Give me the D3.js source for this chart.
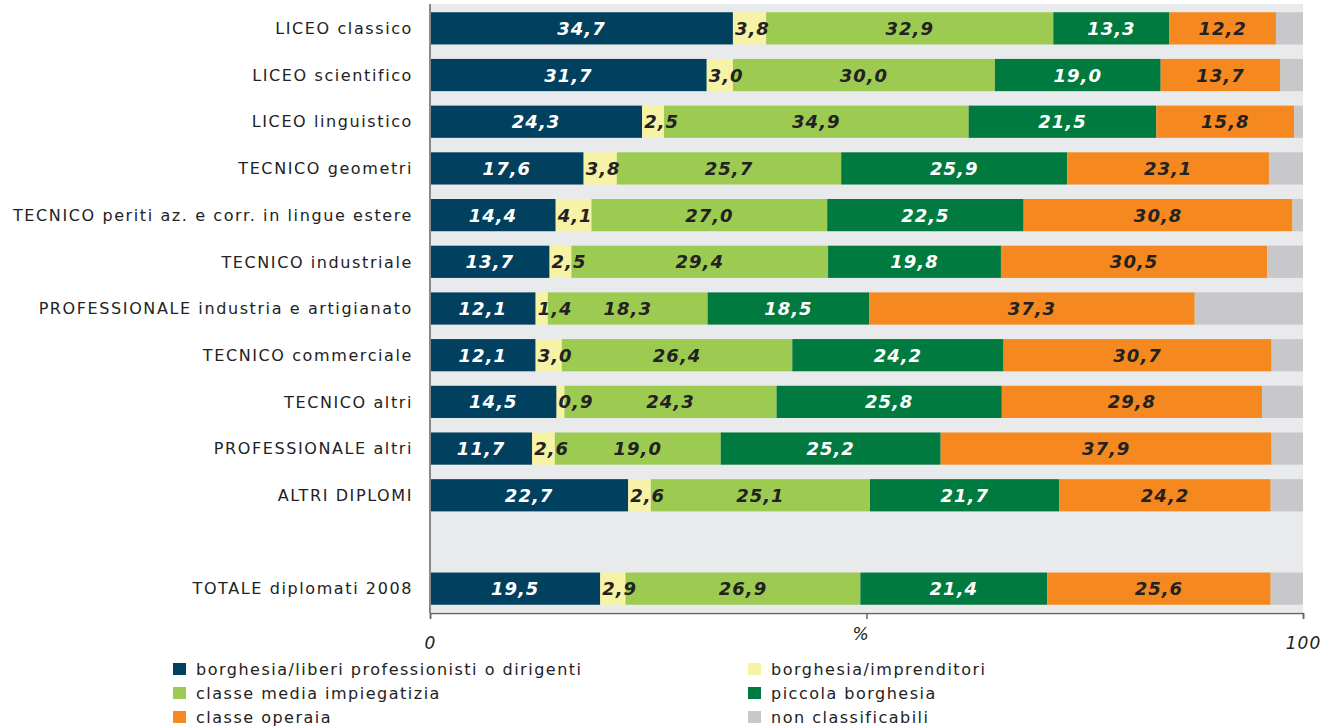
<!DOCTYPE html>
<html>
<head>
<meta charset="utf-8">
<script src="https://cdn.jsdelivr.net/npm/d3@7"></script>
<style>
body { margin: 0; background: #fff; }
svg text { font-family: "DejaVu Sans", Verdana, sans-serif; }
</style>
</head>
<body>
<svg width="1327" height="728"></svg>
<script>
var categories = [
	"LICEO classico",
	"LICEO scientifico",
	"LICEO linguistico",
	"TECNICO geometri",
	"TECNICO periti az. e corr. in lingue estere",
	"TECNICO industriale",
	"PROFESSIONALE industria e artigianato",
	"TECNICO commerciale",
	"TECNICO altri",
	"PROFESSIONALE altri",
	"ALTRI DIPLOMI",
	"",
	"TOTALE diplomati 2008"
];

var seriesNames = [
	"borghesia/liberi professionisti o dirigenti",
	"borghesia/imprenditori",
	"classe media impiegatizia",
	"piccola borghesia",
	"classe operaia",
	"non classificabili"
];

var liberi = [34.7, 31.7, 24.3, 17.6, 14.4, 13.7, 12.1, 12.1, 14.5, 11.7, 22.7, null, 19.5];
var imprenditori = [3.8, 3.0, 2.5, 3.8, 4.1, 2.5, 1.4, 3.0, 0.9, 2.6, 2.6, null, 2.9];
var impiegatizia = [32.9, 30.0, 34.9, 25.7, 27.0, 29.4, 18.3, 26.4, 24.3, 19.0, 25.1, null, 26.9];
var piccola = [13.3, 19.0, 21.5, 25.9, 22.5, 19.8, 18.5, 24.2, 25.8, 25.2, 21.7, null, 21.4];
var operaia = [12.2, 13.7, 15.8, 23.1, 30.8, 30.5, 37.3, 30.7, 29.8, 37.9, 24.2, null, 25.6];

var xTicks = [0, 50, 100];
var xTickLabels = ["0", "%", "100"];

var colors = ["#01415f", "#f7f3a6", "#9dcb52", "#007a3e", "#f5891f", "#c8c8ca"];
var labelColors = ["#ffffff", "#222222", "#222222", "#ffffff", "#222222", null];

var plot = { left: 430, right: 1303, top: 5, bottom: 612 };

var svg = d3.select("svg");

var x = d3.scaleLinear().domain([0, 100]).range([plot.left, plot.right]);
var y = d3.scaleBand().domain(d3.range(categories.length)).range([plot.top, plot.bottom]).paddingInner(0.31).paddingOuter(0.155);

// build stacked table
var rows = categories.map(function(c, i) {
	if (liberi[i] === null) return null;
	var vals = [liberi[i], imprenditori[i], impiegatizia[i], piccola[i], operaia[i]];
	var rest = 100 - d3.sum(vals);
	vals.push(rest);
	var acc = 0;
	return vals.map(function(v, k) {
		var seg = { row: i, k: k, v: v, x0: acc, x1: acc + v };
		acc += v;
		return seg;
	});
});
var segs = [].concat.apply([], rows.filter(function(r) { return r; }));

svg.append("rect")
	.attr("x", plot.left)
	.attr("y", plot.top - 1)
	.attr("width", plot.right - plot.left)
	.attr("height", plot.bottom - plot.top + 1)
	.attr("fill", "#e9eaec");

svg.selectAll(".seg")
	.data(segs)
	.enter()
	.append("rect")
	.attr("class", "seg")
	.attr("x", d => x(d.x0))
	.attr("width", d => x(d.x1) - x(d.x0))
	.attr("y", d => y(d.row))
	.attr("height", y.bandwidth())
	.attr("fill", d => colors[d.k]);

var vals = svg.selectAll(".val")
	.data(segs.filter(d => d.k < 5))
	.enter()
	.append("text")
	.attr("class", "val")
	.attr("x", d => x((d.x0 + d.x1) / 2))
	.attr("y", d => y(d.row) + y.bandwidth() / 2)
	.attr("dy", "0.36em")
	.attr("text-anchor", "middle")
	.attr("font-size", 18)
	.attr("font-weight", "bold")
	.attr("font-style", "italic")
	.attr("letter-spacing", 1)
	.attr("fill", d => labelColors[d.k])
	.text(d => d.v.toFixed(1).replace(".", ","));

// labels wider than their segment start at the segment's left edge
vals.each(function(d) {
	var w = this.getComputedTextLength();
	if (w + 4 > x(d.x1) - x(d.x0)) {
		d3.select(this).attr("text-anchor", "start").attr("x", x(d.x0) + 2);
	}
});

// category labels
svg.selectAll(".cat")
	.data(categories)
	.enter()
	.append("text")
	.attr("class", "cat")
	.attr("x", plot.left - 17)
	.attr("y", (d, i) => y(i) + y.bandwidth() / 2)
	.attr("dy", "0.36em")
	.attr("text-anchor", "end")
	.attr("font-size", 16)
	.attr("letter-spacing", 1.6)
	.attr("fill", "#222")
	.text(d => d);

// left axis line
svg.append("line")
	.attr("x1", plot.left).attr("x2", plot.left)
	.attr("y1", plot.top - 1).attr("y2", plot.bottom + 1)
	.attr("stroke", "#8a8a8a")
	.attr("stroke-width", 2);

// bottom axis
var xAxis = d3.axisBottom(x)
	.tickValues(xTicks)
	.tickSize(6)
	.tickFormat((d, i) => xTickLabels[i]);

var xa = svg.append("g")
	.attr("transform", "translate(0," + (plot.bottom + 1) + ")")
	.call(xAxis);
xa.select(".domain").attr("stroke", "#666").attr("stroke-width", 1.5);
xa.selectAll(".tick line").attr("stroke", "#666").attr("stroke-width", 1.5);
xa.selectAll(".tick text")
	.attr("font-size", 17)
	.attr("font-style", "italic")
	.attr("letter-spacing", 1)
	.attr("fill", "#222")
	.attr("y", (d) => d === 50 ? 15 : 24);
xa.selectAll(".tick text").filter(d => d === 50).attr("dx", -6);

// legend
var legendPos = [
	{ x: 173, y: 669 },
	{ x: 748, y: 669 },
	{ x: 173, y: 693 },
	{ x: 748, y: 693 },
	{ x: 173, y: 717 },
	{ x: 748, y: 717 }
];
var legend = svg.selectAll(".legend")
	.data(seriesNames)
	.enter()
	.append("g")
	.attr("class", "legend")
	.attr("transform", (d, i) => "translate(" + legendPos[i].x + "," + legendPos[i].y + ")");

legend.append("rect")
	.attr("x", 0)
	.attr("y", -6)
	.attr("width", 13)
	.attr("height", 12)
	.attr("fill", (d, i) => colors[i]);

legend.append("text")
	.attr("x", 23)
	.attr("y", 0)
	.attr("dy", "0.36em")
	.attr("font-size", 16)
	.attr("letter-spacing", 1.5)
	.attr("fill", "#222")
	.text(d => d);
</script>
</body>
</html>
